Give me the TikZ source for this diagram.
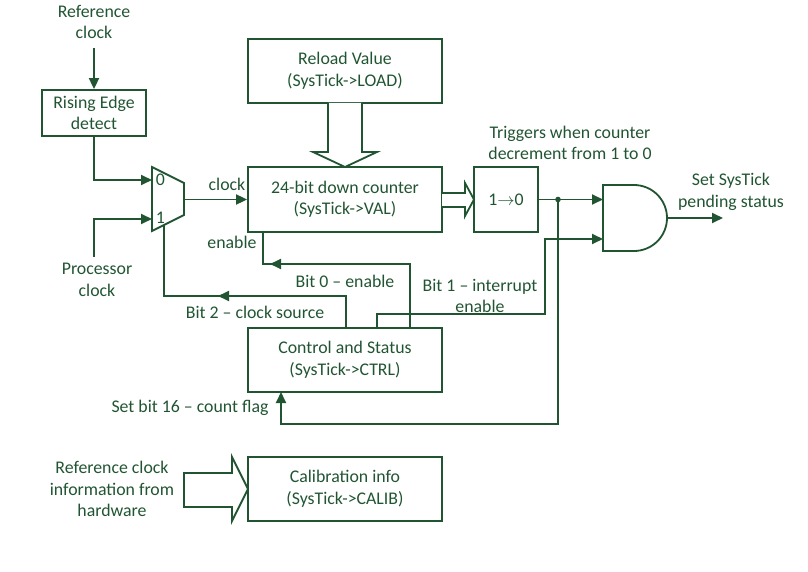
\documentclass[tikz,border=0pt]{standalone}
\usepackage{fontspec}
\setmainfont{Carlito}
\usetikzlibrary{arrows.meta,positioning,decorations.markings}
\definecolor{tickgreen}{RGB}{33,85,50}

\begin{document}
\begin{tikzpicture}[x=1pt,y=-1pt,
line width=1.8pt, tickgreen, text=tickgreen,
font=\fontsize{17.8}{21.5}\selectfont,
arr/.style={-{Triangle[length=11pt,width=10pt]}},
midarr/.style={postaction={decorate,decoration={markings,
  mark=at position #1 with {\arrow{Triangle[length=11pt,width=10pt]}}}}},
block/.style={draw, align=center, minimum width=194pt, minimum height=64pt, inner sep=0pt},
txt/.style={align=center, inner sep=1pt}]
\useasboundingbox (0,0) rectangle (808,572);

% blocks
\node[block, minimum width=104pt, minimum height=46pt] (edge) at (94,113) {Rising Edge\\detect};
\node[block] (load) at (345,71) {Reload Value\\(SysTick->LOAD)};
\node[block, minimum height=65pt] (cnt) at (345,199.5) {24-bit down counter\\(SysTick->VAL)};
\node[block, minimum width=64pt, minimum height=65pt] (dec) at (506,199.5) {1$\rightarrow$0};
\node[block] (ctrl) at (345,360) {Control and Status\\(SysTick->CTRL)};
\node[block] (calib) at (345,489) {Calibration info\\(SysTick->CALIB)};

% texts
\node[txt] (refclk) at (94,22) {Reference\\clock};
\node[txt] (procclk) at (97,280) {Processor\\clock};
\node[txt] (trig) at (570,143) {Triggers when counter\\decrement from 1 to 0};
\node[txt] (pend) at (731,192) {Set SysTick\\pending status};
\node[txt] (refinfo) at (112,489) {Reference clock\\information from\\hardware};
\node[txt] (lclk) at (227,184) {clock};
\node[txt] (len) at (232,242) {enable};
\node[txt] (lb0) at (345,281) {Bit 0 -- enable};
\node[txt] (lb1) at (480,296) {Bit 1 -- interrupt\\enable};
\node[txt] (lb2) at (255,312) {Bit 2 -- clock source};
\node[txt] (lb16) at (190,408) {Set bit 16 -- count flag};

% multiplexer
\draw (152,167) -- (184,183) -- (184,215) -- (152,231) -- cycle;
\node[txt, anchor=west] (sel0) at (154,180) {0};
\node[txt, anchor=west] (sel1) at (154,218) {1};
\coordinate (mux0) at (152,180);
\coordinate (mux1) at (152,219);
\coordinate (muxout) at (184,199.5);
\coordinate (muxsel) at (164,225);

% and gate
\draw (603,185) -- (634,185) arc[start angle=90, end angle=-90, radius=33pt] -- (603,251) -- cycle;
\coordinate (and1) at (603,199.5);
\coordinate (and2) at (603,239);
\coordinate (andout) at (667,218);
\coordinate (pendarr) at (723,218);

% hollow arrows
\draw[fill=white] (328,103) -- (328,152) -- (313,152) -- (345,167) -- (377,152) -- (362,152) -- (362,103);
\draw[fill=white] (442,193) -- (465,193) -- (465,183) -- (474,199.5) -- (465,216) -- (465,207) -- (442,207);
\draw[fill=white] (184,473) -- (232,473) -- (232,457) -- (248,489) -- (232,521) -- (232,507) -- (184,507) -- cycle;

% control bits
\coordinate (b0) at (410,328);
\coordinate (b1) at (377,328);
\coordinate (b2) at (346,328);
\coordinate (flag) at (281,392);
\coordinate (cntin) at (263,232);
\coordinate (tap) at (558,199.5);

% connectors
\draw[arr, shorten <=7pt] (refclk.south) -- (edge.north);
\draw[arr] (edge.south) |- (mux0);
\draw[arr, shorten <=5pt] (procclk.north -| edge.south) |- (mux1);
\draw[arr] (muxout) -- (cnt.west);
\draw[arr] (dec.east) -- (and1);
\fill (tap) circle (2.8pt);
\draw[arr] (tap) |- (281,424) -- (flag);
\draw[arr] (andout) -- (pendarr);
\draw[midarr=204pt] (b0) |- (263,264) -- (cntin);
\draw[midarr=160pt] (b2) |- (164,296) -- (muxsel);
\draw[arr] (b1) |- (545,314) |- (and2);
\end{tikzpicture}
\end{document}
